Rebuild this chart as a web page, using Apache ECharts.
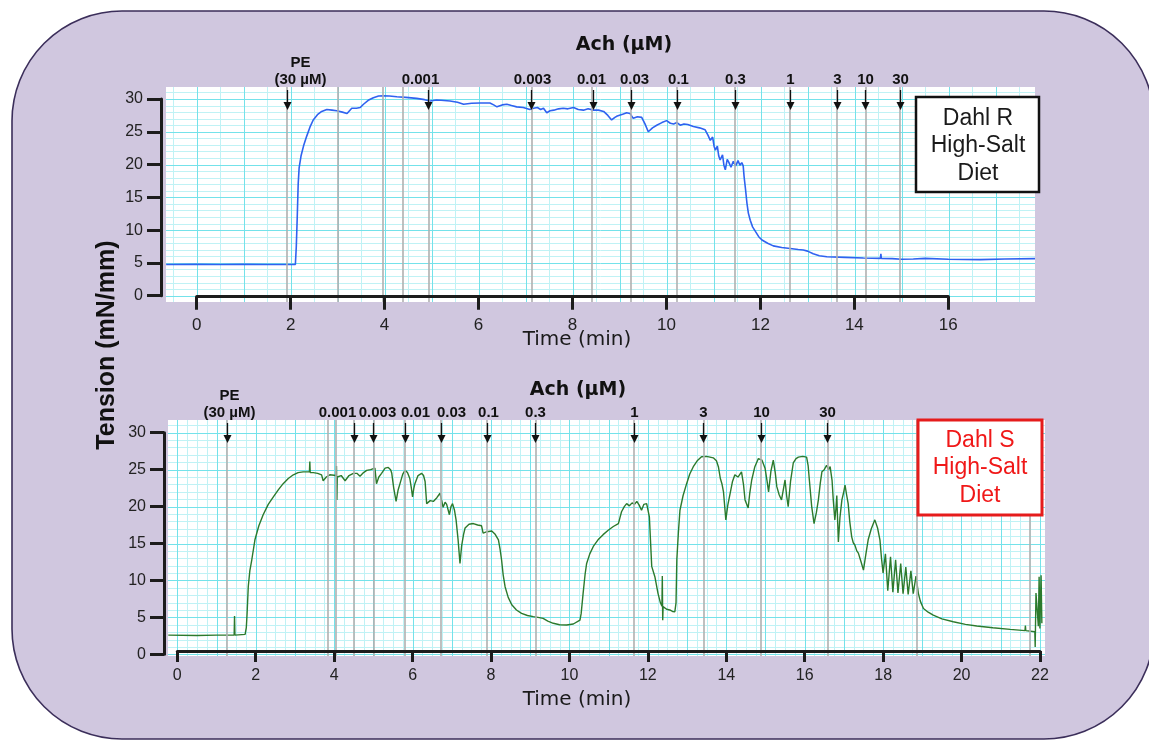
<!DOCTYPE html>
<html><head><meta charset="utf-8">
<script src="https://cdn.jsdelivr.net/npm/echarts@6/dist/echarts.min.js"></script>
<style>html,body{margin:0;padding:0;background:#fff}#c{width:1149px;height:741px}</style>
</head><body><div id="c"></div>
<script>
// ---------- DATA ----------
// Top panel: Dahl R, high-salt diet — [time (min), tension (mN/mm)]
const topTrace = [[-0.65,4.75],[0,4.8],[0.5,4.75],[1,4.8],[1.5,4.75],[2,4.75],[2.1,4.75],[2.12,7.5],[2.14,12],[2.16,17],[2.18,19.5],[2.22,21.3],[2.28,23],[2.34,24.3],[2.41,25.7],[2.48,26.8],[2.57,27.6],[2.66,28.1],[2.77,28.4],[2.88,28.3],[2.98,28.2],[3.1,28.0],[3.2,27.8],[3.3,28.6],[3.4,28.6],[3.48,28.7],[3.55,29.2],[3.65,29.8],[3.76,30.2],[3.87,30.45],[3.97,30.5],[4.1,30.45],[4.26,30.35],[4.45,30.25],[4.68,30.1],[4.85,29.9],[4.97,29.7],[5.1,29.85],[5.2,29.8],[5.39,29.7],[5.55,29.5],[5.68,29.2],[5.85,29.35],[6.03,29.4],[6.24,29.4],[6.32,29.1],[6.39,28.8],[6.5,29.1],[6.6,29.2],[6.7,29.0],[6.81,28.8],[6.95,28.7],[7.09,28.4],[7.17,28.6],[7.25,28.7],[7.32,28.4],[7.38,28.6],[7.45,27.9],[7.52,28.2],[7.6,28.3],[7.7,28.5],[7.8,28.6],[7.9,28.5],[8.02,28.7],[8.12,28.4],[8.23,28.3],[8.33,28.5],[8.44,28.3],[8.55,28.3],[8.66,28.1],[8.75,27.5],[8.83,26.8],[8.9,27.2],[8.95,27.4],[9.08,27.7],[9.15,27.9],[9.22,27.8],[9.29,27.05],[9.38,27.3],[9.47,27.2],[9.54,26.2],[9.61,25.0],[9.7,25.6],[9.79,26.0],[9.9,26.4],[10.0,26.7],[10.08,26.3],[10.15,26.2],[10.22,26.4],[10.29,26.0],[10.37,26.2],[10.45,26.1],[10.57,25.8],[10.7,25.6],[10.82,25.3],[10.88,24.5],[10.93,23.7],[10.98,24.2],[11.01,22.8],[11.04,22.2],[11.08,22.8],[11.11,21.3],[11.14,20.7],[11.19,21.5],[11.22,19.9],[11.25,19.2],[11.29,20.8],[11.32,20.4],[11.37,19.6],[11.42,20.5],[11.47,19.8],[11.52,20.6],[11.56,19.9],[11.6,20.3],[11.63,19.8],[11.65,18.1],[11.68,16.2],[11.71,14.1],[11.74,12.6],[11.78,11.5],[11.83,10.5],[11.89,9.8],[11.96,9.0],[12.03,8.5],[12.15,8.0],[12.27,7.6],[12.45,7.35],[12.63,7.2],[12.8,7.05],[12.91,6.97],[13.0,6.8],[13.12,6.4],[13.25,6.1],[13.41,5.95],[13.8,5.85],[14.19,5.75],[14.55,5.7],[14.56,6.4],[14.57,5.7],[14.8,5.65],[15.0,5.55],[15.25,5.6],[15.5,5.7],[16.0,5.55],[16.67,5.5],[17.2,5.6],[17.84,5.65]];
const topEvents = [1.91,3.0,3.95,4.38,4.93,7.12,8.40,9.24,10.22,11.46,12.63,13.62,14.23,14.97];
const topArrowX = [1.93,4.93,7.12,8.44,9.24,10.22,11.46,12.63,13.62,14.23,14.97];
const topArrowLabels = ['PE\n(30 µM)','0.001','0.003','0.01','0.03','0.1','0.3','1','3','10','30'];

// Bottom panel: Dahl S, high-salt diet — [time (min), tension (mN/mm)]
const botTrace = [[-0.23,2.6],[0.5,2.55],[1,2.6],[1.45,2.6],[1.46,5.2],[1.47,2.6],[1.73,2.7],[1.76,3.6],[1.78,5.5],[1.81,9.15],[1.85,11.3],[1.9,12.8],[1.98,15.5],[2.08,17.4],[2.19,18.9],[2.32,20.3],[2.45,21.3],[2.58,22.3],[2.7,23.1],[2.83,23.8],[2.96,24.3],[3.08,24.6],[3.21,24.7],[3.37,24.7],[3.38,26.1],[3.39,24.6],[3.47,24.6],[3.58,24.5],[3.68,24.3],[3.72,23.5],[3.8,24.0],[3.89,24.3],[4.05,24.2],[4.06,25.5],[4.07,20.9],[4.08,24.0],[4.18,24.2],[4.28,23.5],[4.38,24.2],[4.49,24.5],[4.58,24.5],[4.66,24.1],[4.75,24.6],[4.83,24.9],[4.93,25.0],[5.04,25.2],[5.08,23.1],[5.14,24.0],[5.21,24.5],[5.3,25.2],[5.38,25.3],[5.44,25.0],[5.47,24.5],[5.52,22.5],[5.58,20.7],[5.63,22.2],[5.68,23.1],[5.75,24.4],[5.81,24.9],[5.87,24.6],[5.93,23.8],[5.97,22.5],[6.0,21.3],[6.03,22.4],[6.06,23.1],[6.14,24.2],[6.23,24.5],[6.28,24.2],[6.32,23.4],[6.36,20.4],[6.45,20.8],[6.53,20.7],[6.62,21.2],[6.7,21.8],[6.78,19.9],[6.83,20.6],[6.87,20.3],[6.94,18.9],[6.98,20.0],[7.02,20.4],[7.07,19.5],[7.11,18.2],[7.16,15.6],[7.21,12.3],[7.25,14.6],[7.3,16.2],[7.34,17.1],[7.44,17.6],[7.55,17.7],[7.66,17.5],[7.76,17.4],[7.8,16.4],[7.9,16.6],[8.02,16.7],[8.1,16.3],[8.19,15.5],[8.23,14.3],[8.27,12.8],[8.31,10.8],[8.36,9.15],[8.44,7.7],[8.53,6.7],[8.65,6.0],[8.78,5.55],[8.93,5.25],[9.08,5.1],[9.2,5.0],[9.33,4.87],[9.45,4.5],[9.59,4.2],[9.75,4.0],[9.93,3.97],[10.1,4.1],[10.27,4.64],[10.3,5.5],[10.35,8.25],[10.4,10.8],[10.44,12.3],[10.52,13.6],[10.61,14.6],[10.73,15.5],[10.86,16.2],[10.99,16.8],[11.12,17.3],[11.25,17.7],[11.29,18.5],[11.33,19.3],[11.4,20.0],[11.46,20.4],[11.53,20.1],[11.6,20.5],[11.66,20.3],[11.72,20.7],[11.78,20.2],[11.84,19.5],[11.9,20.3],[11.97,20.4],[12.04,18.6],[12.1,11.9],[12.18,10.5],[12.26,8.25],[12.32,7.0],[12.36,6.5],[12.37,10.6],[12.38,4.6],[12.39,6.45],[12.48,6.1],[12.56,6.0],[12.63,5.8],[12.69,5.77],[12.72,7.0],[12.74,12.8],[12.78,16.5],[12.82,19.5],[12.9,21.5],[12.99,23.1],[13.07,24.4],[13.16,25.4],[13.26,26.2],[13.37,26.75],[13.5,26.8],[13.67,26.6],[13.75,26.2],[13.8,25.4],[13.85,23.8],[13.89,23.1],[13.93,22.0],[13.99,18.2],[14.04,20.2],[14.1,21.8],[14.16,23.4],[14.22,24.3],[14.3,24.0],[14.39,24.7],[14.44,23.0],[14.48,20.9],[14.56,19.8],[14.6,21.8],[14.65,23.6],[14.73,25.4],[14.82,26.5],[14.91,26.3],[14.99,25.2],[15.04,23.5],[15.08,22.0],[15.14,24.8],[15.2,26.3],[15.25,24.6],[15.29,22.7],[15.35,21.6],[15.41,20.9],[15.46,22.4],[15.5,23.6],[15.54,21.5],[15.58,20.0],[15.64,23.4],[15.71,25.9],[15.78,26.5],[15.84,26.7],[15.95,26.8],[16.05,26.7],[16.09,25.5],[16.12,23.6],[16.18,20.0],[16.24,17.7],[16.3,19.2],[16.35,20.9],[16.4,23.2],[16.44,24.7],[16.5,25.0],[16.56,25.6],[16.61,25.0],[16.65,25.4],[16.7,23.5],[16.73,20.9],[16.77,18.2],[16.8,19.8],[16.82,21.5],[16.84,18.3],[16.86,15.2],[16.9,18.5],[16.95,20.9],[16.99,21.8],[17.03,22.9],[17.07,21.6],[17.11,20.4],[17.15,18.0],[17.2,15.9],[17.24,15.1],[17.28,14.8],[17.33,14.0],[17.37,13.7],[17.44,12.5],[17.5,11.4],[17.56,13.5],[17.62,15.5],[17.7,17.0],[17.79,18.2],[17.86,17.1],[17.92,15.5],[17.96,13.0],[18.0,11.0],[18.06,13.6],[18.12,8.6],[18.19,13.2],[18.25,8.4],[18.32,12.8],[18.38,8.3],[18.45,12.3],[18.51,8.2],[18.58,11.8],[18.64,8.1],[18.71,11.3],[18.77,8.2],[18.84,10.6],[18.9,8.25],[18.95,7.2],[19.03,6.2],[19.15,5.7],[19.28,5.3],[19.5,4.8],[19.79,4.4],[20.1,4.05],[20.39,3.83],[20.8,3.6],[21.24,3.38],[21.62,3.2],[21.63,3.9],[21.64,3.2],[21.87,3.06],[21.88,1.0],[21.9,8.3],[21.94,8.3],[21.96,3.8],[21.98,10.5],[22.0,3.5],[22.03,10.7],[22.05,4.2]];
const botEvents = [1.26,3.84,4.05,4.51,5.0,5.81,6.72,7.9,9.13,11.65,13.42,14.89,16.58,18.85,21.75];
const botArrowX = [1.26,4.51,5.0,5.81,6.72,7.9,9.13,11.65,13.42,14.89,16.58];
const botArrowLabels = ['PE\n(30 µM)','0.001','0.003','0.01','0.03','0.1','0.3','1','3','10','30'];

const yTicks = [0,5,10,15,20,25,30];
const topXTicks = [0,2,4,6,8,10,12,14,16];
const botXTicks = [0,2,4,6,8,10,12,14,16,18,20,22];

// ---------- VIEW / LAYOUT ----------
const TOP_X = [-0.653, 17.84], TOP_Y = [-0.96, 31.83];
const BOT_X = [-0.237, 22.13], BOT_Y = [-0.23, 31.72];
const topLabelDx = [13, -8, 1, -2, 3, 1, 0, 0, 0, 0, 0];   // label pixel shifts vs arrow
const botLabelDx = [2, -17, 4, 10, 10, 1, 0, 0, 0, 0, 0];
const MAJ = '#74e2ea', MIN = '#c0f2f5';
const SANS = 'Liberation Sans, Arial, sans-serif';
const WIDE = 'DejaVu Sans, sans-serif';

function gridLines(xr, yr, xMinor, xMajor, yMinor, yMajor) {
  return function (params, api) {
    const cs = params.coordSys;
    const minors = [], majors = [];
    const isMaj = (v, m) => Math.abs(v / m - Math.round(v / m)) < 1e-6;
    for (let k = Math.ceil(xr[0] / xMinor); k * xMinor <= xr[1]; k++) {
      const v = k * xMinor, p = Math.round(api.coord([v, yr[0]])[0]) + 0.5, m = isMaj(v, xMajor);
      (m ? majors : minors).push({type: 'line', shape: {x1: p, y1: cs.y, x2: p, y2: cs.y + cs.height},
        style: {stroke: m ? MAJ : MIN, lineWidth: 1}});
    }
    for (let k = Math.ceil(yr[0] / yMinor); k * yMinor <= yr[1]; k++) {
      const v = k * yMinor, p = Math.round(api.coord([xr[0], v])[1]) + 0.5, m = isMaj(v, yMajor);
      (m ? majors : minors).push({type: 'line', shape: {x1: cs.x, y1: p, x2: cs.x + cs.width, y2: p},
        style: {stroke: m ? MAJ : MIN, lineWidth: 1}});
    }
    return {type: 'group', children: minors.concat(majors)};
  };
}
function arrows(labels, dx) {
  return function (params, api) {
    const x = Math.round(api.coord([api.value(0), api.value(1)])[0]) + 0.5;
    const top = params.coordSys.y;
    return {type: 'group', children: [
      {type: 'line', shape: {x1: x, y1: top + 3, x2: x, y2: top + 17}, style: {stroke: '#111', lineWidth: 1.3}},
      {type: 'polygon', shape: {points: [[x - 4, top + 15], [x + 4, top + 15], [x, top + 23]]}, style: {fill: '#111'}},
      {type: 'text', x: x + dx[params.dataIndex], y: top + 1, style: {text: labels[params.dataIndex], fontSize: 15,
        fontWeight: 'bold', fontFamily: SANS, fill: '#111', align: 'center', verticalAlign: 'bottom', lineHeight: 17}}
    ]};
  };
}
const eventLines = ev => ({silent: true, symbol: 'none', label: {show: false},
  lineStyle: {color: '#b0b0b0', width: 1.6, type: 'solid'}, data: ev.map(v => ({xAxis: v}))});
const hiddenAxis = (g, r) => ({gridIndex: g, type: 'value', show: false, min: r[0], max: r[1]});
const AX = '#1c1c1c';
const axisStyle = {z: 10, axisLine: {show: true, onZero: false, lineStyle: {color: AX, width: 3}}, splitLine: {show: false}};

const chart = echarts.init(document.getElementById('c'), null, {renderer: 'canvas'});
chart.setOption({
  animation: false,
  backgroundColor: '#ffffff',
  grid: [
    {left: 166, top: 87, width: 869, height: 215, show: true, backgroundColor: '#fff', borderWidth: 0, outerBoundsMode: 'none'},
    {left: 161, top: 99, width: 5, height: 196.7, outerBoundsMode: 'none'},
    {left: 196.7, top: 200, width: 751.6, height: 96.7, outerBoundsMode: 'none'},
    {left: 168, top: 420, width: 877, height: 236, show: true, backgroundColor: '#fff', borderWidth: 0, outerBoundsMode: 'none'},
    {left: 164, top: 432.7, width: 5, height: 221.6, outerBoundsMode: 'none'},
    {left: 177.3, top: 560, width: 862.7, height: 91, outerBoundsMode: 'none'}
  ],
  xAxis: [
    hiddenAxis(0, TOP_X),
    hiddenAxis(1, [0, 1]),
    Object.assign({gridIndex: 2, type: 'value', min: 0, max: 16, interval: 2, position: 'bottom',
      axisTick: {show: true, length: 13, lineStyle: {color: AX, width: 3}},
      axisLabel: {fontSize: 17, color: '#222', margin: 20, fontFamily: SANS, customValues: topXTicks}}, axisStyle),
    hiddenAxis(3, BOT_X),
    hiddenAxis(4, [0, 1]),
    Object.assign({gridIndex: 5, type: 'value', min: 0, max: 22, interval: 2, position: 'bottom',
      axisTick: {show: true, length: 11, lineStyle: {color: AX, width: 3}},
      axisLabel: {fontSize: 16, color: '#222', margin: 17, fontFamily: SANS, customValues: botXTicks}}, axisStyle)
  ],
  yAxis: [
    hiddenAxis(0, TOP_Y),
    Object.assign({gridIndex: 1, type: 'value', min: 0, max: 30, interval: 5, position: 'left',
      axisTick: {show: true, length: 14, lineStyle: {color: AX, width: 3}},
      axisLabel: {fontSize: 16, color: '#222', margin: 18, fontFamily: SANS, customValues: yTicks}}, axisStyle),
    hiddenAxis(2, [0, 1]),
    hiddenAxis(3, BOT_Y),
    Object.assign({gridIndex: 4, type: 'value', min: 0, max: 30, interval: 5, position: 'left',
      axisTick: {show: true, length: 14, lineStyle: {color: AX, width: 3}},
      axisLabel: {fontSize: 16, color: '#222', margin: 18, fontFamily: SANS, customValues: yTicks}}, axisStyle),
    hiddenAxis(5, [0, 1])
  ],
  series: [
    {type: 'custom', xAxisIndex: 0, yAxisIndex: 0, silent: true, z: 1, data: [[0, 0]],
      renderItem: gridLines(TOP_X, TOP_Y, 0.5, 1, 1, 5), markLine: eventLines(topEvents)},
    {type: 'line', name: 'Dahl R', xAxisIndex: 0, yAxisIndex: 0, z: 3, showSymbol: false, silent: true,
      data: topTrace, lineStyle: {color: '#2f62f0', width: 1.6}},
    {type: 'custom', xAxisIndex: 0, yAxisIndex: 0, silent: true, z: 5, clip: false,
      data: topArrowX.map(x => [x, 0]), renderItem: arrows(topArrowLabels, topLabelDx)},
    {type: 'custom', xAxisIndex: 3, yAxisIndex: 3, silent: true, z: 1, data: [[0, 0]],
      renderItem: gridLines(BOT_X, BOT_Y, 0.25, 1, 1, 5), markLine: eventLines(botEvents)},
    {type: 'line', name: 'Dahl S', xAxisIndex: 3, yAxisIndex: 3, z: 3, showSymbol: false, silent: true,
      data: botTrace, lineStyle: {color: '#2c7a2c', width: 1.4}},
    {type: 'custom', xAxisIndex: 3, yAxisIndex: 3, silent: true, z: 5, clip: false,
      data: botArrowX.map(x => [x, 0]), renderItem: arrows(botArrowLabels, botLabelDx)}
  ],
  graphic: [
    {type: 'rect', z: -100, silent: true, shape: {x: 12, y: 11, width: 1142, height: 728, r: 110},
      style: {fill: '#d0c7df', stroke: '#3b2e5a', lineWidth: 1.6}},
    {type: 'text', z: 100, x: 624, y: 45, style: {text: 'Ach (µM)', fontSize: 19, fontWeight: 'bold', fontFamily: WIDE,
      fill: '#111', align: 'center', verticalAlign: 'middle'}},
    {type: 'text', z: 100, x: 578, y: 390, style: {text: 'Ach (µM)', fontSize: 19, fontWeight: 'bold', fontFamily: WIDE,
      fill: '#111', align: 'center', verticalAlign: 'middle'}},
    {type: 'text', z: 100, x: 577, y: 340, style: {text: 'Time (min)', fontSize: 20, fontFamily: WIDE,
      fill: '#1a1a1a', align: 'center', verticalAlign: 'middle'}},
    {type: 'text', z: 100, x: 577, y: 700, style: {text: 'Time (min)', fontSize: 20, fontFamily: WIDE,
      fill: '#1a1a1a', align: 'center', verticalAlign: 'middle'}},
    {type: 'text', z: 100, x: 107, y: 345, rotation: Math.PI / 2, style: {text: 'Tension (mN/mm)', fontSize: 25,
      fontWeight: 'bold', fontFamily: SANS, fill: '#111', align: 'center', verticalAlign: 'middle'}},
    {type: 'group', z: 100, children: [
      {type: 'rect', z: 100, shape: {x: 916, y: 97, width: 123, height: 95}, style: {fill: '#fff', stroke: '#111', lineWidth: 2.5}},
      {type: 'text', z: 101, x: 978, y: 146, style: {text: 'Dahl R\nHigh-Salt\nDiet', fontSize: 23, lineHeight: 27.5,
        fontFamily: SANS, fill: '#1a1a1a', align: 'center', verticalAlign: 'middle'}}
    ]},
    {type: 'group', z: 100, children: [
      {type: 'rect', z: 100, shape: {x: 918, y: 420, width: 124, height: 95}, style: {fill: '#fff', stroke: '#e51c1c', lineWidth: 3}},
      {type: 'text', z: 101, x: 980, y: 468, style: {text: 'Dahl S\nHigh-Salt\nDiet', fontSize: 23, lineHeight: 27.5,
        fontFamily: SANS, fill: '#f01818', align: 'center', verticalAlign: 'middle'}}
    ]}
  ]
});
</script></body></html>
